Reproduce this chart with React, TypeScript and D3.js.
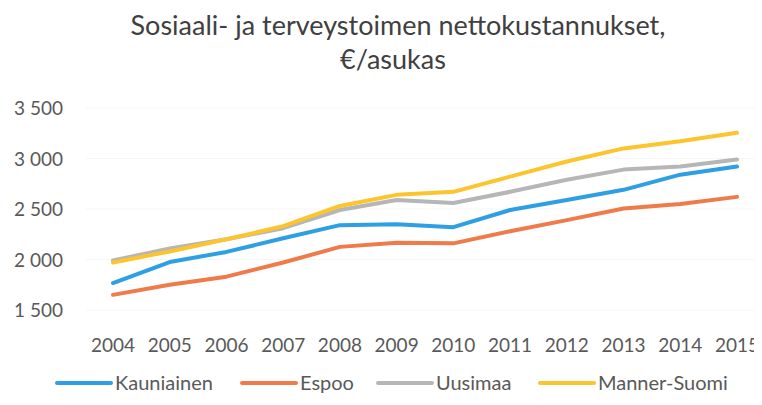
import * as d3 from 'd3';
import { useEffect, useRef } from 'react';

const years = ['2004', '2005', '2006', '2007', '2008', '2009', '2010', '2011', '2012', '2013', '2014', '2015'];
const kauniainen = [1767, 1975, 2075, 2210, 2340, 2350, 2320, 2490, 2590, 2690, 2840, 2920];
const espoo = [1650, 1750, 1830, 1970, 2125, 2165, 2160, 2280, 2390, 2505, 2550, 2620];
const uusimaa = [1990, 2110, 2200, 2310, 2490, 2590, 2560, 2670, 2790, 2890, 2920, 2990];
const mannerSuomi = [1970, 2080, 2200, 2330, 2530, 2640, 2670, 2820, 2970, 3100, 3170, 3255];
const seriesNames = ['Kauniainen', 'Espoo', 'Uusimaa', 'Manner-Suomi'];
const yTicks = [1500, 2000, 2500, 3000, 3500];

export default function App() {
    const ref = useRef<HTMLDivElement>(null);

    useEffect(() => {
        const width = 762;
        const height = 405;
        const font = 'Lato, Carlito, sans-serif';
        const textColor = '#595959';
        const colors = ['#2e9fe3', '#ef7a4a', '#b6b6b6', '#fcc52e'];
        const values = [kauniainen, espoo, uusimaa, mannerSuomi];

        const svg = d3.create('svg')
            .attr('width', width)
            .attr('height', height)
            .style('display', 'block')
            .style('background', '#fff');

        const x = d3.scalePoint().domain(years).range([113, 737]);
        const y = d3.scaleLinear().domain([1500, 3500]).range([310, 108]);

        // title
        const title = svg.append('text')
            .attr('text-anchor', 'middle')
            .attr('font-family', font)
            .attr('font-size', 27)
            .attr('fill', '#404040');
        title.append('tspan').attr('x', 398).attr('y', 35).text('Sosiaali- ja terveystoimen nettokustannukset,');
        title.append('tspan').attr('x', 393).attr('y', 69).text('€/asukas');

        // faint gridlines
        svg.append('g')
            .selectAll('line')
            .data(yTicks)
            .join('line')
            .attr('x1', 86)
            .attr('x2', 760)
            .attr('y1', d => y(d))
            .attr('y2', d => y(d))
            .attr('stroke', '#f6f6f6')
            .attr('stroke-width', 1);

        // y axis labels
        svg.append('g')
            .selectAll('text')
            .data(yTicks)
            .join('text')
            .attr('x', 63)
            .attr('y', d => y(d) + 7)
            .attr('text-anchor', 'end')
            .attr('font-family', font)
            .attr('font-size', 19)
            .attr('fill', textColor)
            .text(d => d3.format(',')(d).replace(',', ' '));

        // x axis labels
        svg.append('g')
            .selectAll('text')
            .data(years)
            .join('text')
            .attr('x', d => x(d)!)
            .attr('y', 352)
            .attr('text-anchor', 'middle')
            .attr('font-family', font)
            .attr('font-size', 19)
            .attr('fill', textColor)
            .text(d => d);

        const line = d3.line<number>()
            .x((_, i) => x(years[i])!)
            .y(d => y(d));

        values.forEach((v, i) => {
            svg.append('path')
                .datum(v)
                .attr('fill', 'none')
                .attr('stroke', colors[i])
                .attr('stroke-width', 4)
                .attr('stroke-linejoin', 'round')
                .attr('stroke-linecap', 'round')
                .attr('d', line);
        });

        // legend
        const legendX = [57, 242, 378, 540];
        const legend = svg.append('g')
            .selectAll('g')
            .data(seriesNames)
            .join('g')
            .attr('transform', (_, i) => `translate(${legendX[i]},383)`);
        legend.append('line')
            .attr('x1', 0)
            .attr('x2', 54)
            .attr('stroke', (_, i) => colors[i])
            .attr('stroke-width', 4)
            .attr('stroke-linecap', 'round');
        legend.append('text')
            .attr('x', 58)
            .attr('y', 7)
            .attr('font-family', font)
            .attr('font-size', 20)
            .attr('fill', textColor)
            .text(d => d);

        ref.current?.append(svg.node()!);
        return () => { svg.remove(); };
    }, []);

    return <div ref={ref} style={{ margin: -8 }}></div>;
}
